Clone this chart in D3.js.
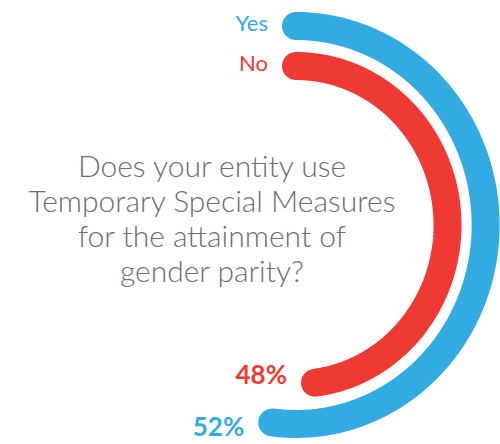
<!DOCTYPE html>
<html lang="en">
<head>
    <meta charset="UTF-8">
    <title>Temporary Special Measures</title>
    <script src="https://d3js.org/d3.v7.min.js"></script>
    <style>
        body { margin: 0; background: #fff; }
    </style>
</head>
<body>
    <svg width="500" height="444"></svg>
    <script>
        // Data
        const categories = ["Yes", "No"];
        const values = [52, 48];
        const valueLabels = ["52%", "48%"];
        const colors = ["#31abe1", "#ee3a33"];
        const question = ["Does your entity use", "Temporary Special Measures", "for the attainment of", "gender parity?"];

        const svg = d3.select("svg");

        // Arc geometry (the source arcs are slightly squeezed horizontally)
        const cx = 296, cy = 225, squeeze = 0.953;
        const band = 28;
        const radius = d3.scaleOrdinal().domain(categories).range([199, 159]);
        const angle = d3.scaleLinear().domain([0, 100]).range([0, 2 * Math.PI]);

        const rows = categories.map((c, i) => ({ cat: c, value: values[i], label: valueLabels[i], color: colors[i] }));

        // point on the (squeezed) circle, angle measured clockwise from 12 o'clock
        const px = (r, a) => cx + squeeze * r * Math.sin(a);
        const py = (r, a) => cy - r * Math.cos(a);

        // stroked arcs with round caps
        const arcPath = d => {
            const r = radius(d.cat);
            const end = angle(d.value);
            const p = d3.path();
            const steps = 120;
            for (let i = 0; i <= steps; i++) {
                const a = end * i / steps;
                if (i === 0) p.moveTo(px(r, a), py(r, a));
                else p.lineTo(px(r, a), py(r, a));
            }
            return p.toString();
        };

        svg.append("g")
            .selectAll("path")
            .data(rows)
            .enter()
            .append("path")
            .attr("d", arcPath)
            .attr("fill", "none")
            .attr("stroke", d => d.color)
            .attr("stroke-width", band)
            .attr("stroke-linecap", "round")
            .attr("stroke-linejoin", "round");

        // Category labels next to the start of each arc
        svg.selectAll("text.cat")
            .data(rows)
            .enter()
            .append("text")
            .attr("class", "cat")
            .attr("x", cx - band)
            .attr("y", d => cy - radius(d.cat) + 5)
            .attr("text-anchor", "end")
            .attr("font-family", "Lato, sans-serif")
            .attr("font-size", 22)
            .attr("fill", d => d.color)
            .text(d => d.cat);

        // Percent labels next to the end of each arc
        svg.selectAll("text.pct")
            .data(rows)
            .enter()
            .append("text")
            .attr("class", "pct")
            .attr("x", d => px(radius(d.cat), angle(d.value)) - band)
            .attr("y", d => py(radius(d.cat), angle(d.value)) + (d.cat === "Yes" ? 14 : 1))
            .attr("text-anchor", "end")
            .attr("font-family", "Lato, sans-serif")
            .attr("font-weight", 700)
            .attr("font-size", 26)
            .attr("fill", d => d.color)
            .text(d => d.label);

        // Question in the middle
        svg.append("g")
            .selectAll("text")
            .data(question)
            .enter()
            .append("text")
            .attr("x", 212)
            .attr("y", (d, i) => 177 + i * 35)
            .attr("text-anchor", "middle")
            .attr("font-family", "Lato, sans-serif")
            .attr("font-weight", 300)
            .attr("font-size", 30)
            .attr("fill", "#6d6e70")
            .text(d => d);
    </script>
</body>
</html>
